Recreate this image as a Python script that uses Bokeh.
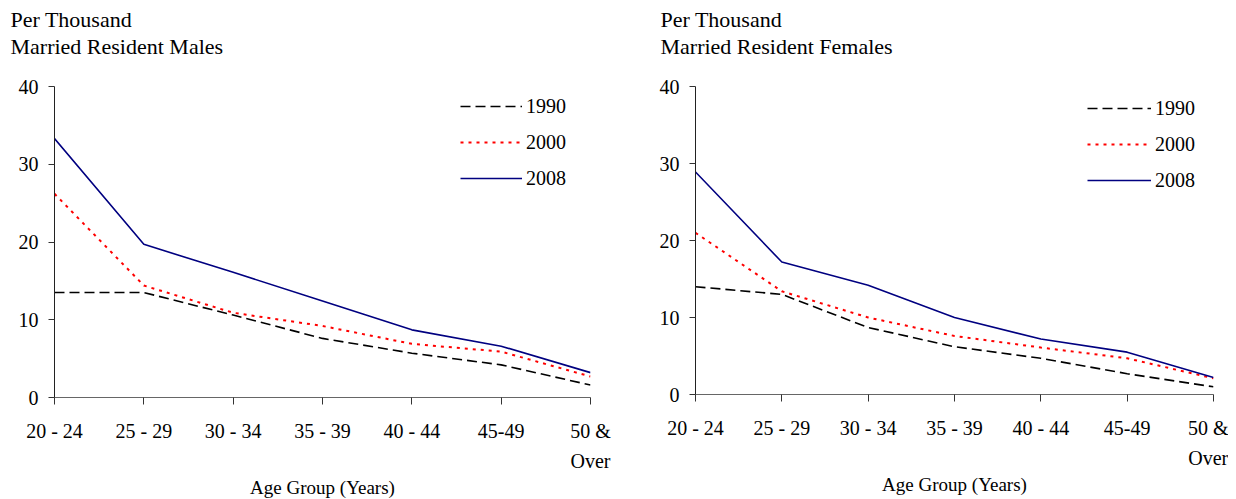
from bokeh.plotting import figure
from bokeh.models import Range1d, FixedTicker, Legend, LegendItem
from bokeh.layouts import row
from bokeh.embed import file_html
from bokeh.resources import INLINE

categories = ["20 - 24", "25 - 29", "30 - 34", "35 - 39", "40 - 44", "45-49", "50 &\nOver"]
years = ["1990", "2000", "2008"]
males_1990 = [13.5, 13.5, 10.6, 7.6, 5.7, 4.2, 1.6]
males_2000 = [26.2, 14.4, 10.9, 9.2, 6.9, 5.9, 2.7]
males_2008 = [33.3, 19.7, 16.1, 12.4, 8.7, 6.6, 3.2]
females_1990 = [14.0, 13.0, 8.7, 6.2, 4.7, 2.7, 1.0]
females_2000 = [21.0, 13.4, 10.0, 7.6, 6.1, 4.7, 2.1]
females_2008 = [28.9, 17.2, 14.2, 10.0, 7.2, 5.5, 2.2]
y_ticks = [0, 10, 20, 30, 40]
title_males = ["Per Thousand", "Married Resident Males"]
title_females = ["Per Thousand", "Married Resident Females"]
x_title = "Age Group (Years)"

FONT = "'Liberation Serif', 'Times New Roman', serif"
styles = [
    dict(line_color="black", line_dash="10 5", line_width=1.6),
    dict(line_color="#ff0000", line_dash="3 5", line_width=2.0),
    dict(line_color="#000080", line_dash="solid", line_width=1.6),
]


def make_panel(title_lines, series, frame_w, frame_h, b_left, b_top, b_right,
               title_offset, leg_loc, glyph_w):
    p = figure(frame_width=frame_w, frame_height=frame_h,
               min_border_left=b_left, min_border_top=b_top,
               min_border_right=b_right, min_border_bottom=2,
               x_range=Range1d(0, len(categories) - 1),
               y_range=Range1d(y_ticks[0], y_ticks[-1]),
               output_backend="svg", toolbar_location=None)
    # trailing empty line keeps the two title lines raised above the frame
    p.title.text = "\n".join(title_lines) + "\n"
    p.title.align = "left"
    p.title.offset = title_offset
    p.title.standoff = 0
    p.title.text_font = FONT
    p.title.text_font_size = "22px"
    p.title.text_font_style = "normal"
    p.title.text_line_height = 1.1
    p.title.text_color = "black"

    xs = list(range(len(categories)))
    renderers = []
    for vals, st in zip(series, styles):
        r = p.line(xs, vals, **st)
        renderers.append(r)

    legend = Legend(items=[LegendItem(label=y, renderers=[r]) for y, r in zip(years, renderers)],
                    location=leg_loc, padding=0, spacing=12, margin=0,
                    label_height=24, glyph_height=24, glyph_width=glyph_w,
                    label_standoff=4, border_line_color=None,
                    background_fill_alpha=0,
                    label_text_font=FONT, label_text_font_size="20px",
                    label_text_color="black")
    p.add_layout(legend)

    p.grid.visible = False
    p.outline_line_color = None
    p.background_fill_color = "white"
    p.border_fill_color = "white"

    xa = p.xaxis[0]
    xa.ticker = FixedTicker(ticks=xs)
    xa.major_label_overrides = {i: c for i, c in enumerate(categories)}
    xa.major_tick_in = 0
    xa.major_tick_out = 7
    xa.minor_tick_line_color = None
    xa.major_label_standoff = 15
    xa.major_label_text_font = FONT
    xa.major_label_text_font_size = "20px"
    xa.major_label_text_line_height = 1.4
    xa.major_label_text_color = "black"
    xa.axis_label = x_title
    xa.axis_label_standoff = 2
    xa.axis_label_text_font = FONT
    xa.axis_label_text_font_size = "19px"
    xa.axis_label_text_font_style = "normal"
    xa.axis_label_text_color = "black"
    xa.axis_line_color = "#666666"
    xa.major_tick_line_color = "#333333"

    ya = p.yaxis[0]
    ya.ticker = FixedTicker(ticks=y_ticks)
    ya.major_tick_in = 0
    ya.major_tick_out = 6
    ya.minor_tick_line_color = None
    ya.major_label_standoff = 10
    ya.major_label_text_font = FONT
    ya.major_label_text_font_size = "20px"
    ya.major_label_text_color = "black"
    ya.axis_line_color = "#222222"
    ya.major_tick_line_color = "#333333"
    return p


p1 = make_panel(title_males, [males_1990, males_2000, males_2008],
                536, 311, 54, 86, 36, -44, (406, 207), 62)
p2 = make_panel(title_females, [females_1990, females_2000, females_2008],
                518, 308, 69, 86, 15, -35, (392, 202), 64)

layout = row(p1, p2)
open("out.html", "w").write(file_html(layout, INLINE))
